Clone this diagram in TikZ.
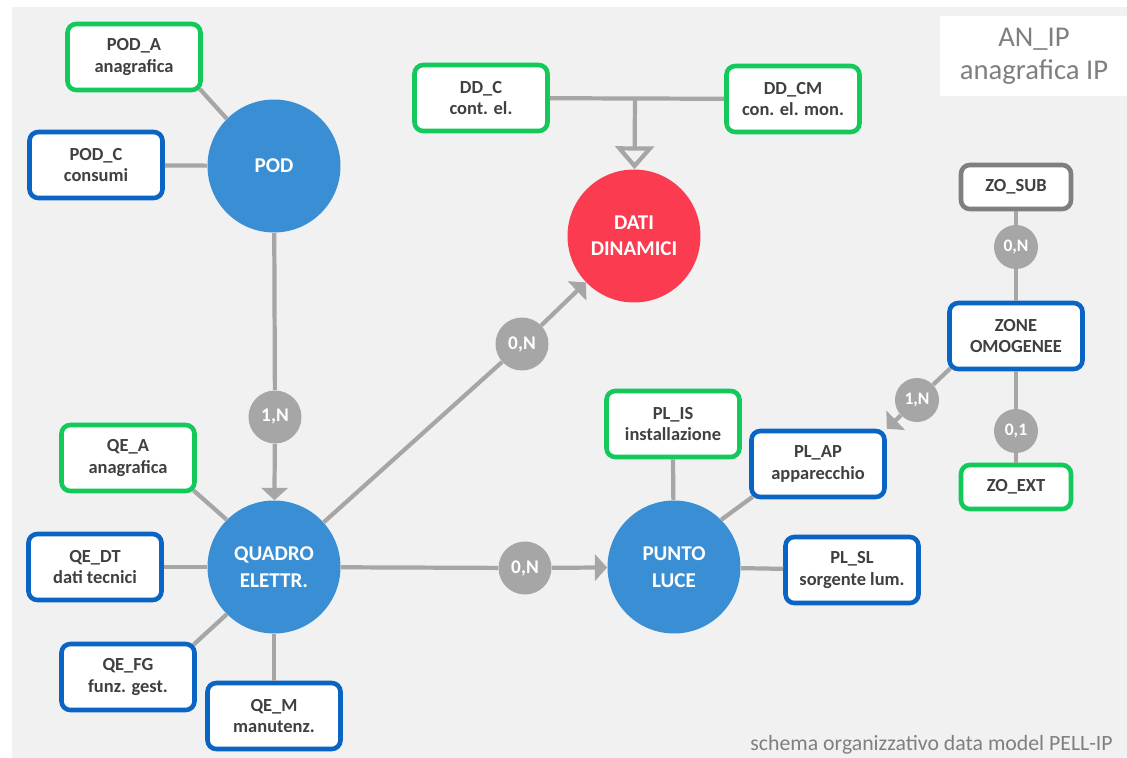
\documentclass[tikz,border=0pt]{standalone}
\usepackage{fontspec}
\setmainfont{Carlito}
\usetikzlibrary{arrows.meta}
\definecolor{bggray}{HTML}{F1F1F1}
\definecolor{linegray}{HTML}{A6A6A6}
\definecolor{txtgray}{HTML}{404040}
\definecolor{capgray}{HTML}{7F7F7F}
\definecolor{entblue}{HTML}{3A8FD4}
\definecolor{entred}{HTML}{FA3B50}
\definecolor{brdgreen}{HTML}{12C95A}
\definecolor{brdblue}{HTML}{0A64C4}
\definecolor{brdgray}{HTML}{7F7F7F}

\begin{document}
\begin{tikzpicture}[x=0.02cm, y=-0.02cm,
    attrbox/.style={draw, fill=white, rounded corners=5pt, line width=2.6pt,
        minimum width=2.66cm, minimum height=1.32cm, align=center,
        text=txtgray, font=\bfseries\fontsize{10.5}{12.5}\selectfont},
    smallbox/.style={attrbox, minimum width=2.2cm, minimum height=0.88cm},
    entity/.style={circle, minimum size=2.66cm, inner sep=0pt, align=center,
        text=white, font=\bfseries\fontsize{12}{15}\selectfont},
    cardnum/.style={circle, fill=linegray, minimum size=1.06cm, inner sep=0pt,
        text=white, font=\bfseries\fontsize{11}{13}\selectfont},
    smallcard/.style={cardnum, minimum size=0.88cm, font=\bfseries\fontsize{10}{12}\selectfont},
    link/.style={draw=linegray, line width=2.4pt},
    >={Triangle[length=7pt, width=15pt]}]
    % background
    \fill[white] (0,0) rectangle (1127,758);
    \fill[bggray] (12,7) rectangle (1127,758);
    \useasboundingbox (0,0) rectangle (1127,758);

    \node (anip) [fill=white, minimum width=3.78cm, minimum height=1.6cm, align=center,
        text=capgray, font=\fontsize{16.3}{19}\selectfont] at (1034,56) {AN\_IP\\anagrafica IP};

    % entities
    \node (pod) [entity, fill=entblue] at (274,166) {POD};
    \node (dd) [entity, fill=entred] at (634,236) {DATI\\DINAMICI};
    \node (qe) [entity, fill=entblue] at (274,567) {QUADRO\\ELETTR.};
    \node (pl) [entity, fill=entblue] at (674,567) {PUNTO\\LUCE};

    % attribute boxes
    \node (poda) [attrbox, draw=brdgreen] at (134,57) {POD\_A\\anagrafica};
    \node (podc) [attrbox, draw=brdblue] at (96,165) {POD\_C\\consumi};
    \node (ddc) [attrbox, draw=brdgreen] at (481,98) {DD\_C\\cont. el.};
    \node (ddcm) [attrbox, draw=brdgreen] at (793,99) {DD\_CM\\con. el. mon.};
    \node (qea) [attrbox, draw=brdgreen] at (128,458) {QE\_A\\anagrafica};
    \node (qedt) [attrbox, draw=brdblue] at (95,567) {QE\_DT\\dati tecnici};
    \node (qefg) [attrbox, draw=brdblue] at (128,677) {QE\_FG\\funz. gest.};
    \node (qem) [attrbox, draw=brdblue] at (274,716) {QE\_M\\manutenz.};
    \node (plis) [attrbox, draw=brdgreen] at (673,424) {PL\_IS\\installazione};
    \node (plap) [attrbox, draw=brdblue] at (818,464) {PL\_AP\\apparecchio};
    \node (plsl) [attrbox, draw=brdblue] at (852,570) {PL\_SL\\sorgente lum.};
    \node (zo) [attrbox, draw=brdblue] at (1016,336) {ZONE\\OMOGENEE};
    \node (zosub) [smallbox, draw=brdgray] at (1016,187) {ZO\_SUB};
    \node (zoext) [smallbox, draw=brdgreen] at (1016,487) {ZO\_EXT};

    % cardinalities
    \node (cqe) [cardnum] at (275,417) {1,N};
    \node (cdd) [cardnum] at (522,344) {0,N};
    \node (cpl) [cardnum] at (525,568) {0,N};
    \node (csub) [smallcard] at (1016,247) {0,N};
    \node (cap) [smallcard] at (917,400) {1,N};
    \node (cext) [smallcard] at (1016,431) {0,1};
    \coordinate (ddj) at (635,99);

    % connectors
    \draw[link, shorten <=-2.5pt] (poda.south east) -- (pod.135);
    \draw[link] (podc) -- (pod);
    \draw[link] (pod) -- (cqe);
    \draw[link, ->] (cqe) -- (qe);
    \draw[link] (ddc) -- (ddcm);
    \draw[link, -{Triangle[open, length=13pt, width=22pt]}] (ddj) -- (dd);
    \draw[link] (qe) -- (cdd);
    \draw[link, ->] (cdd) -- (dd);
    \draw[link] (qe) -- (cpl);
    \draw[link, ->] (cpl) -- (pl);
    \draw[link, shorten <=-2.5pt] (qea.south east) -- (qe.135);
    \draw[link] (qedt) -- (qe);
    \draw[link, shorten <=-2.5pt] (qefg.north east) -- (qe.225);
    \draw[link] (qem) -- (qe);
    \draw[link] (plis.south) -- (pl);
    \draw[link, shorten <=-2.5pt] (plap.south west) -- (pl.45);
    \draw[link] (plsl) -- (pl);
    \draw[link] (zosub) -- (csub);
    \draw[link] (csub) -- (zo);
    \draw[link, shorten <=-2.5pt] (zo.south west) -- (cap);
    \draw[link, ->] (cap) -- (plap.north east);
    \draw[link] (zo) -- (cext);
    \draw[link] (cext) -- (zoext);

    \node (caption) [anchor=east, text=capgray, font=\fontsize{12.4}{14}\selectfont]
        at (1119,745) {schema organizzativo data model PELL-IP};
\end{tikzpicture}
\end{document}
